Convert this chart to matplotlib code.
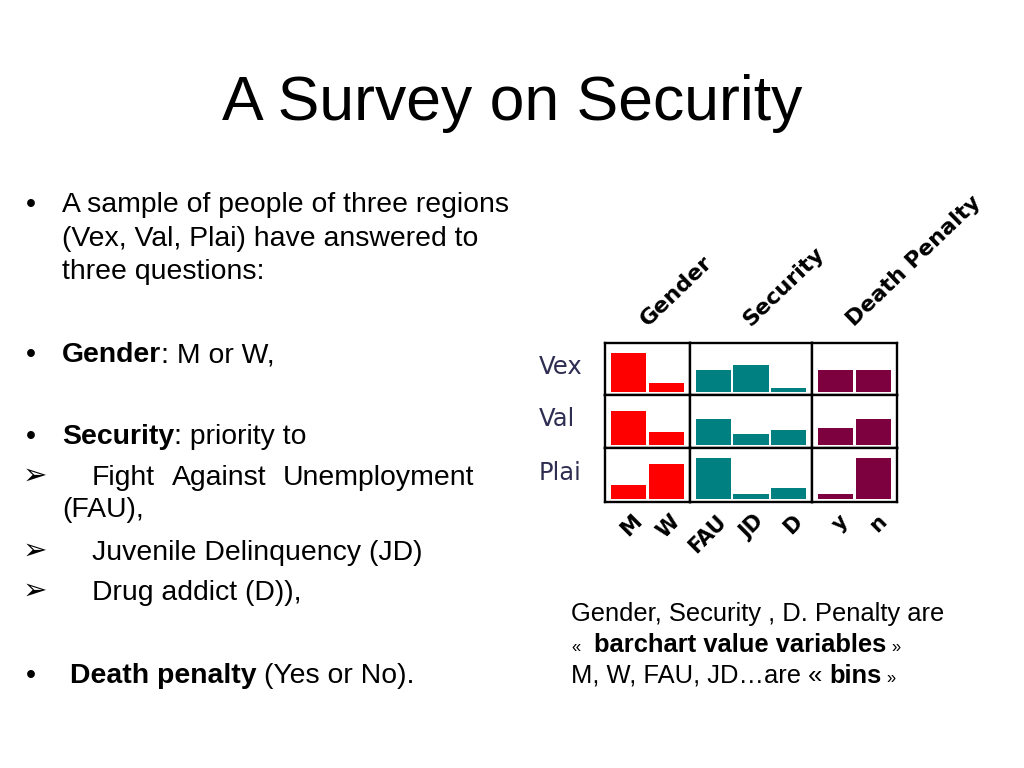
import matplotlib
matplotlib.use('Agg')
import matplotlib.pyplot as plt

# ---------------- data ----------------
regions = ["Vex", "Val", "Plai"]
variables = ["Gender", "Security", "Death Penalty"]
gender_bins = ["M", "W"]
security_bins = ["FAU", "JD", "D"]
penalty_bins = ["y", "n"]
# bar heights (relative counts), one list per region
gender_vals = [[119, 27], [99, 39], [41, 101]]
security_vals = [[65, 81, 12], [77, 32, 44], [119, 14, 32]]
penalty_vals = [[65, 65], [50, 77], [14, 119]]
var_colors = ["#ff0000", "#008080", "#7d003f"]

W, H = 1024, 768
fig = plt.figure(figsize=(W / 100, H / 100), dpi=100)
fig.patch.set_facecolor("white")
renderer = fig.canvas.get_renderer()

SANS = ["Liberation Sans", "DejaVu Sans"]


def fx(x):
    return x / W


def fy(y):
    return 1 - y / H


def text_width(s, size, weight, family=SANS):
    t1 = fig.text(0, 0, "x" + s + "x", fontsize=size, fontweight=weight, family=family)
    t0 = fig.text(0, 0, "xx", fontsize=size, fontweight=weight, family=family)
    w = t1.get_window_extent(renderer).width - t0.get_window_extent(renderer).width
    t1.remove()
    t0.remove()
    return w


def draw_line(x, y, parts, family=SANS):
    for s, weight, size in parts:
        stripped = s.lstrip(" ")
        lead = len(s) - len(stripped)
        if lead:
            x += text_width(" " * lead, size, weight, family)
        if stripped:
            fig.text(fx(x), fy(y), stripped, fontsize=size, fontweight=weight,
                     family=family, ha="left", va="baseline", color="black")
            x += text_width(stripped, size, weight, family)


# ---------------- title ----------------
fig.text(0.5, fy(120), "A Survey on Security", ha="center", va="baseline",
         fontsize=45, family=SANS, color="black")

# ---------------- bullet text ----------------
FS = 20.4
bullet_x = 26
for yb in (212, 362, 444, 683):
    fig.text(fx(bullet_x), fy(yb), "\u2022", fontsize=FS, family=SANS,
             ha="left", va="baseline")
for yb in (485, 560, 600):
    fig.text(fx(23), fy(yb - 1), "\u27a2", fontsize=21, family=["DejaVu Sans"],
             ha="left", va="baseline")

draw_line(62, 212, [("A sample of people of three regions", "normal", FS)])
draw_line(62, 246, [("(Vex, Val, Plai) have answered to", "normal", FS)])
draw_line(62, 279, [("three questions:", "normal", FS)])
draw_line(62, 362, [("Gender", "bold", FS), (": M or W,", "normal", FS)])
draw_line(62, 444, [("Security", "bold", FS), (": priority to", "normal", FS)])
draw_line(92, 485, [("Fight", "normal", FS)])
draw_line(172, 485, [("Against", "normal", FS)])
draw_line(283, 485, [("Unemployment", "normal", FS)])
draw_line(62, 517, [("(FAU),", "normal", FS)])
draw_line(92, 560, [("Juvenile Delinquency (JD)", "normal", FS)])
draw_line(92, 600, [("Drug addict (D)),", "normal", FS)])
draw_line(70, 683, [("Death penalty", "bold", FS), (" (Yes or No).", "normal", FS)])

# ---------------- note ----------------
NS = 18.4
draw_line(571, 621, [("Gender, Security , D. Penalty are", "normal", NS)])
draw_line(571, 652, [("\u00ab", "normal", 12), ("  barchart value variables", "bold", NS),
                     (" \u00bb", "normal", 12)])
draw_line(571, 683, [("M, W, FAU, JD\u2026are \u00ab ", "normal", NS), ("bins", "bold", NS),
                     (" \u00bb", "normal", 12)])

# ---------------- barchart grid ----------------
col_px = [(605, 690), (690, 812), (812, 897)]
row_px = [(343, 395), (395, 448), (448, 502)]
all_bins = [gender_bins, security_bins, penalty_bins]
all_vals = [gender_vals, security_vals, penalty_vals]

for ri, region in enumerate(regions):
    y0, y1 = row_px[ri]
    for ci, var in enumerate(variables):
        x0, x1 = col_px[ci]
        ax = fig.add_axes([fx(x0), fy(y1), (x1 - x0) / W, (y1 - y0) / H])
        bins = all_bins[ci]
        vals = all_vals[ci][ri]
        n = len(bins)
        ax.bar(range(n), vals, width=0.94, color=var_colors[ci], linewidth=0)
        ax.set_xlim(-0.625, n - 0.375)
        ax.set_ylim(-10, 148)
        ax.set_xticks([])
        ax.set_yticks([])
        for sp in ax.spines.values():
            sp.set_linewidth(1.7)
            sp.set_color("black")
        if ri == 0:
            ax.annotate(var, xy=(0.5, 1), xycoords="axes fraction",
                        xytext=(0, 16), textcoords="offset pixels",
                        rotation=44, rotation_mode="anchor", ha="left", va="baseline",
                        fontsize=16, fontweight="bold", family="DejaVu Sans",
                        color="black", annotation_clip=False)
        if ri == len(regions) - 1:
            for i, b in enumerate(bins):
                ax.annotate(b, xy=(i, 0), xycoords=("data", "axes fraction"),
                            xytext=(3, -9), textcoords="offset pixels",
                            rotation=45, rotation_mode="anchor", ha="right", va="top",
                            fontsize=15, fontweight="bold", family="DejaVu Sans",
                            color="black", annotation_clip=False)
    fig.text(fx(539), fy((y0 + y1) / 2 + 5), region, fontsize=17.5, family="DejaVu Sans",
             color="#2e2d52", ha="left", va="baseline")

fig.savefig("out.png", dpi=100, facecolor="white")
